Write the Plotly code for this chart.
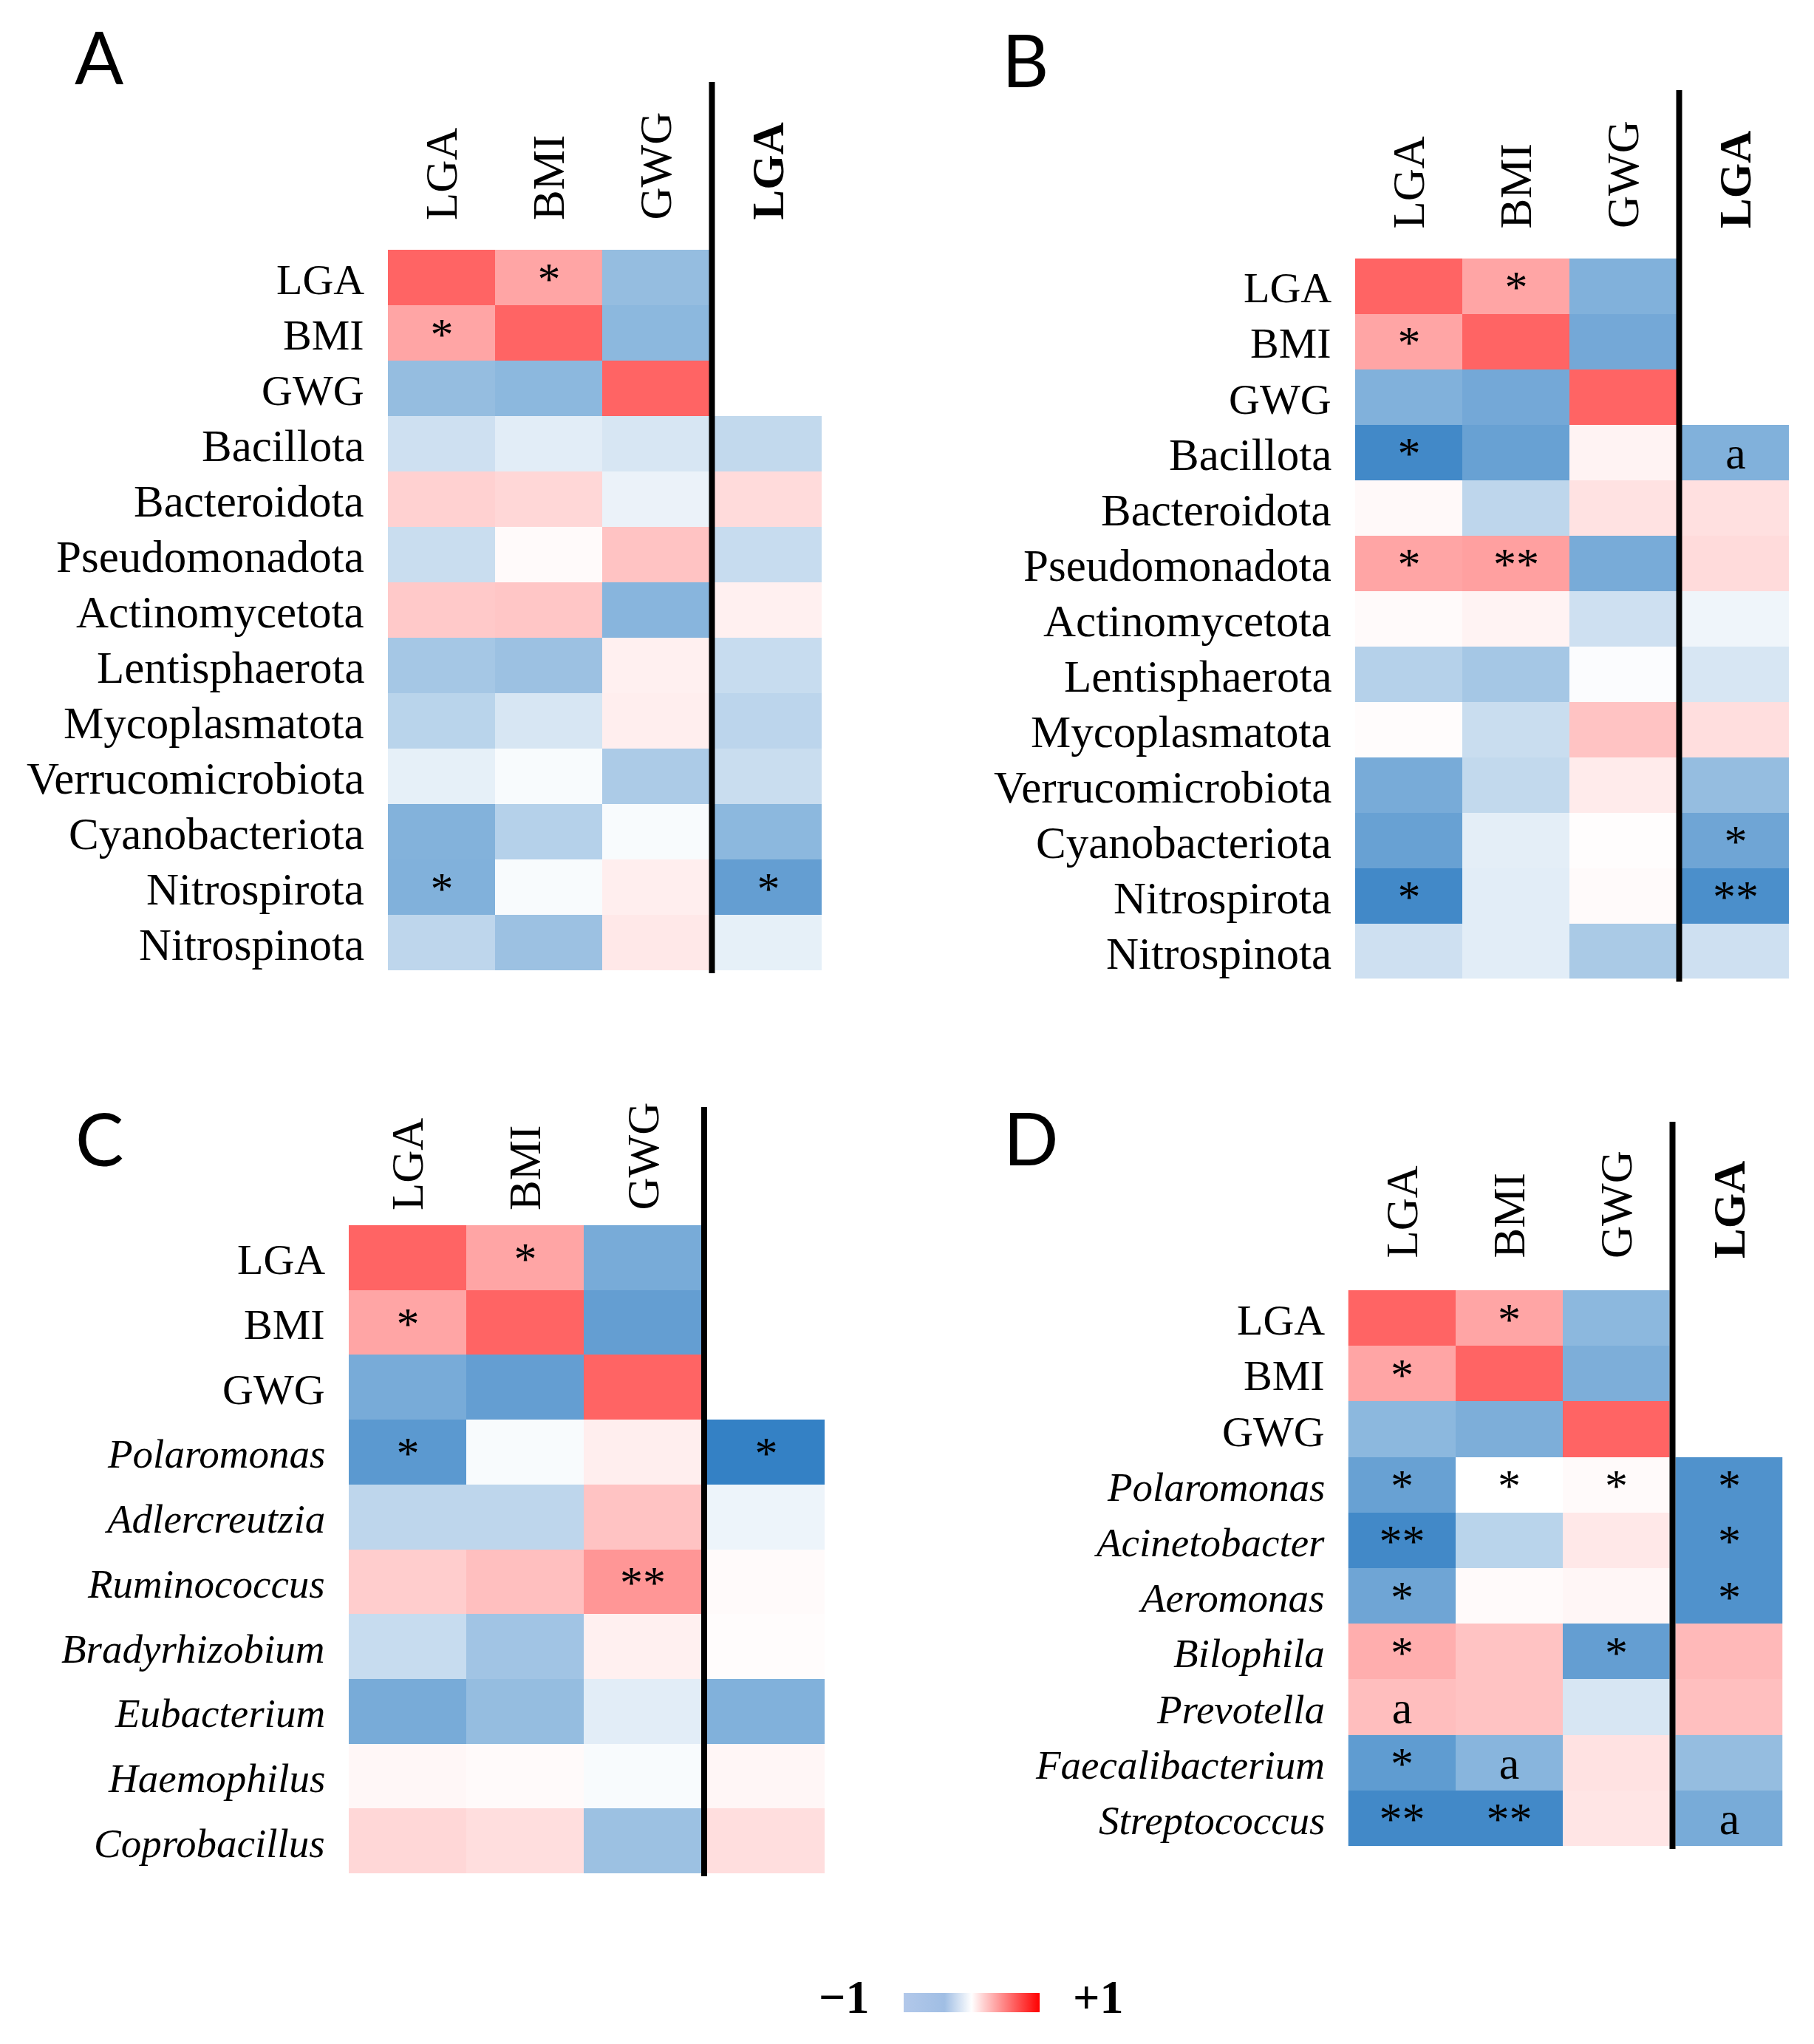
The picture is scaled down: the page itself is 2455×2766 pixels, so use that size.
import plotly.graph_objects as go

W, H = 2455, 2766

# ---------------- data ----------------
cols = ["LGA", "BMI", "GWG"]
extra_col_A = "LGA"
extra_col_B = "LGA"
extra_col_C = ""
extra_col_D = "LGA"

phyla = ["LGA", "BMI", "GWG", "Bacillota", "Bacteroidota", "Pseudomonadota",
         "Actinomycetota", "Lentisphaerota", "Mycoplasmatota", "Verrucomicrobiota",
         "Cyanobacteriota", "Nitrospirota", "Nitrospinota"]
genera_C = ["LGA", "BMI", "GWG", "Polaromonas", "Adlercreutzia", "Ruminococcus",
            "Bradyrhizobium", "Eubacterium", "Haemophilus", "Coprobacillus"]
genera_D = ["LGA", "BMI", "GWG", "Polaromonas", "Acinetobacter", "Aeromonas",
            "Bilophila", "Prevotella", "Faecalibacterium", "Streptococcus"]

# Panel A
A_lga = [1, 0.58, -0.47, -0.22, 0.30, -0.24, 0.35, -0.40, -0.31, -0.11, -0.55, -0.56, -0.29]
A_bmi = [0.58, 1, -0.51, -0.13, 0.26, 0.03, 0.37, -0.44, -0.18, -0.03, -0.33, -0.03, -0.44]
A_gwg = [-0.47, -0.51, 1, -0.18, -0.09, 0.39, -0.53, 0.10, 0.11, -0.37, -0.03, 0.11, 0.15]
A_ext = [None, None, None, -0.27, 0.23, -0.25, 0.10, -0.25, -0.30, -0.24, -0.51, -0.69, -0.11]
A_lga_sig = ["", "*", "", "", "", "", "", "", "", "", "", "*", ""]
A_bmi_sig = ["*", "", "", "", "", "", "", "", "", "", "", "", ""]
A_gwg_sig = ["", "", "", "", "", "", "", "", "", "", "", "", ""]
A_ext_sig = ["", "", "", "", "", "", "", "", "", "", "", "*", ""]

# Panel B
B_lga = [1, 0.58, -0.56, -0.84, 0.04, 0.58, 0.03, -0.33, 0.02, -0.60, -0.67, -0.84, -0.22]
B_bmi = [0.58, 1, -0.62, -0.67, -0.29, 0.61, 0.08, -0.40, -0.24, -0.27, -0.12, -0.13, -0.13]
B_gwg = [-0.56, -0.62, 1, 0.08, 0.19, -0.60, -0.22, -0.02, 0.39, 0.13, 0.01, 0.03, -0.38]
B_ext = [None, None, None, -0.56, 0.20, 0.23, -0.07, -0.18, 0.21, -0.47, -0.64, -0.80, -0.22]
B_lga_sig = ["", "*", "", "*", "", "*", "", "", "", "", "", "*", ""]
B_bmi_sig = ["*", "", "", "", "", "**", "", "", "", "", "", "", ""]
B_gwg_sig = ["", "", "", "", "", "", "", "", "", "", "", "", ""]
B_ext_sig = ["", "", "", "a", "", "", "", "", "", "", "*", "**", ""]

# Panel C
C_lga = [1, 0.58, -0.60, -0.73, -0.29, 0.32, -0.25, -0.60, 0.05, 0.26]
C_bmi = [0.58, 1, -0.69, -0.03, -0.29, 0.41, -0.42, -0.47, 0.03, 0.21]
C_gwg = [-0.60, -0.69, 1, 0.11, 0.39, 0.68, 0.10, -0.13, -0.03, -0.44]
C_ext = [None, None, None, -0.90, -0.08, 0.03, 0.02, -0.56, 0.06, 0.21]
C_lga_sig = ["", "*", "", "*", "", "", "", "", "", ""]
C_bmi_sig = ["*", "", "", "", "", "", "", "", "", ""]
C_gwg_sig = ["", "", "", "", "", "**", "", "", "", ""]
C_ext_sig = ["", "", "", "*", "", "", "", "", "", ""]

# Panel D
D_lga = [1, 0.58, -0.51, -0.67, -0.84, -0.64, 0.52, 0.42, -0.71, -0.84]
D_bmi = [0.58, 1, -0.58, 0.0, -0.31, 0.03, 0.39, 0.39, -0.53, -0.84]
D_gwg = [-0.51, -0.58, 1, 0.03, 0.15, 0.06, -0.69, -0.18, 0.19, 0.17]
D_ext = [None, None, None, -0.78, -0.78, -0.78, 0.45, 0.41, -0.47, -0.60]
D_lga_sig = ["", "*", "", "*", "**", "*", "*", "a", "*", "**"]
D_bmi_sig = ["*", "", "", "*", "", "", "", "", "a", "**"]
D_gwg_sig = ["", "", "", "*", "", "", "*", "", "", ""]
D_ext_sig = ["", "", "", "*", "*", "*", "", "", "", "a"]

# ---------------- styles ----------------
cell_scale = [[0.0, "rgb(30,115,190)"], [0.5, "rgb(255,255,255)"], [1.0, "rgb(255,100,100)"]]
legend_scale = [[0.0, "rgb(178,200,234)"], [0.3, "rgb(160,190,228)"], [0.5, "rgb(255,255,255)"],
                [0.55, "rgb(255,228,228)"], [1.0, "rgb(255,0,0)"]]
SERIF = "Liberation Serif"

panels = [
    dict(key="A", rows=phyla, italic=False, data=[A_lga, A_bmi, A_gwg], ext=A_ext,
         sig=[A_lga_sig, A_bmi_sig, A_gwg_sig], ext_sig=A_ext_sig, ext_name=extra_col_A,
         x0=525, cw=145, gap=7, top=338, rh=75, hgap=38, ltop=111, lsize=61,
         letter=(105, 76)),
    dict(key="B", rows=phyla, italic=False, data=[B_lga, B_bmi, B_gwg], ext=B_ext,
         sig=[B_lga_sig, B_bmi_sig, B_gwg_sig], ext_sig=B_ext_sig, ext_name=extra_col_B,
         x0=1834, cw=145, gap=7, top=349.5, rh=75, hgap=38, ltop=122, lsize=61,
         letter=(1360, 80)),
    dict(key="C", rows=genera_C, italic=True, data=[C_lga, C_bmi, C_gwg], ext=C_ext,
         sig=[C_lga_sig, C_bmi_sig, C_gwg_sig], ext_sig=C_ext_sig, ext_name=extra_col_C,
         x0=472, cw=159, gap=8, top=1658, rh=87.7, hgap=18, ltop=1498, lsize=55,
         letter=(106, 1540)),
    dict(key="D", rows=genera_D, italic=True, data=[D_lga, D_bmi, D_gwg], ext=D_ext,
         sig=[D_lga_sig, D_bmi_sig, D_gwg_sig], ext_sig=D_ext_sig, ext_name=extra_col_D,
         x0=1824.5, cw=145, gap=8, top=1746, rh=75.2, hgap=41, ltop=1518, lsize=55,
         letter=(1362, 1539)),
]

fig = go.Figure()
annotations = []
shapes = []
layout_axes = {}


def px_x(v):
    return v / W


def px_y(v):
    return 1 - v / H


for i, p in enumerate(panels):
    n = len(p["rows"])
    g = p["gap"] / p["cw"]
    ax = "" if i == 0 else str(i + 1)
    xa, ya = "x" + ax, "y" + ax
    left = p["x0"]
    right = p["x0"] + 4 * p["cw"] + p["gap"]
    top = p["top"]
    bottom = p["top"] + n * p["rh"]
    layout_axes["xaxis" + ax] = dict(domain=[px_x(left), px_x(right)], range=[-0.5, 3.5 + g],
                                     anchor=ya, visible=False, fixedrange=True)
    layout_axes["yaxis" + ax] = dict(domain=[px_y(bottom), px_y(top)], range=[n - 0.5, -0.5],
                                     anchor=xa, visible=False, fixedrange=True)
    yedges = [k - 0.5 for k in range(n + 1)]
    # main 3 columns
    z = [[p["data"][c][r] for c in range(3)] for r in range(n)]
    t = [[p["sig"][c][r] for c in range(3)] for r in range(n)]
    fig.add_trace(go.Heatmap(z=z, x=[-0.5, 0.5, 1.5, 2.5], y=yedges, text=t,
                             texttemplate="%{text}",
                             textfont=dict(family=SERIF, size=62, color="black"),
                             colorscale=cell_scale, zmin=-1, zmax=1, showscale=False,
                             hoverinfo="skip", xaxis=xa, yaxis=ya))
    # extra column
    ze = [[v] for v in p["ext"]]
    te = [[s] for s in p["ext_sig"]]
    fig.add_trace(go.Heatmap(z=ze, x=[2.5 + g, 3.5 + g], y=yedges, text=te,
                             texttemplate="%{text}",
                             textfont=dict(family=SERIF, size=62, color="black"),
                             colorscale=cell_scale, zmin=-1, zmax=1, showscale=False,
                             hoverinfo="skip", xaxis=xa, yaxis=ya))
    # separator line
    shapes.append(dict(type="line", xref=xa, yref="paper", x0=2.5 + g / 2, x1=2.5 + g / 2,
                       y0=px_y(p["ltop"]), y1=px_y(bottom + 4),
                       line=dict(color="black", width=8)))
    # row labels
    for r, lab in enumerate(p["rows"]):
        if r < 3:
            txt, size = lab, 58
        else:
            txt = f"<i>{lab}</i>" if p["italic"] else lab
            size = p["lsize"]
        annotations.append(dict(text=txt, xref="paper", yref=ya, x=px_x(left - 30), y=r,
                                xanchor="right", yanchor="middle", showarrow=False, yshift=-3,
                                font=dict(family=SERIF, size=size, color="black")))
    # column headers
    hx = [0, 1, 2, 3 + g]
    htxt = cols + [f"<b>{p['ext_name']}</b>" if p["ext_name"] else ""]
    for x, lab in zip(hx, htxt):
        if not lab:
            continue
        annotations.append(dict(text=lab, xref=xa, yref="paper", x=x,
                                y=px_y(top - p["hgap"]), xanchor="center", yanchor="bottom",
                                textangle=-90, showarrow=False,
                                font=dict(family=SERIF, size=61, color="black")))
    # panel letter
    lx, ly = p["letter"]
    annotations.append(dict(text=p["key"], xref="paper", yref="paper", x=px_x(lx - 6),
                            y=px_y(ly), xanchor="left", yanchor="middle", showarrow=False,
                            font=dict(family="Lato", size=98, color="black")))

# colour legend
fig.add_trace(go.Scatter(x=[None], y=[None], mode="markers", showlegend=False,
                         hoverinfo="skip", xaxis="x", yaxis="y",
                         marker=dict(color=[0], cmin=-1, cmax=1, colorscale=legend_scale,
                                     showscale=True,
                                     colorbar=dict(orientation="h", x=px_x(1315),
                                                   xanchor="center", y=px_y(2723),
                                                   yanchor="bottom", len=184,
                                                   lenmode="pixels", thickness=26,
                                                   thicknessmode="pixels", outlinewidth=0,
                                                   showticklabels=False, ticks="",
                                                   xpad=0, ypad=0))))
annotations.append(dict(text="<b>\u22121</b>", xref="paper", yref="paper", x=px_x(1178),
                        y=px_y(2702), xanchor="right", yanchor="middle", showarrow=False,
                        font=dict(family=SERIF, size=64, color="black")))
annotations.append(dict(text="<b>+1</b>", xref="paper", yref="paper", x=px_x(1450),
                        y=px_y(2702), xanchor="left", yanchor="middle", showarrow=False,
                        font=dict(family=SERIF, size=64, color="black")))

fig.update_layout(width=W, height=H, margin=dict(l=0, r=0, t=0, b=0),
                  paper_bgcolor="white", plot_bgcolor="white", showlegend=False,
                  annotations=annotations, shapes=shapes, **layout_axes)

fig.write_html("out.html", config={"displayModeBar": False},
               post_script="document.body.style.margin='0px';")
